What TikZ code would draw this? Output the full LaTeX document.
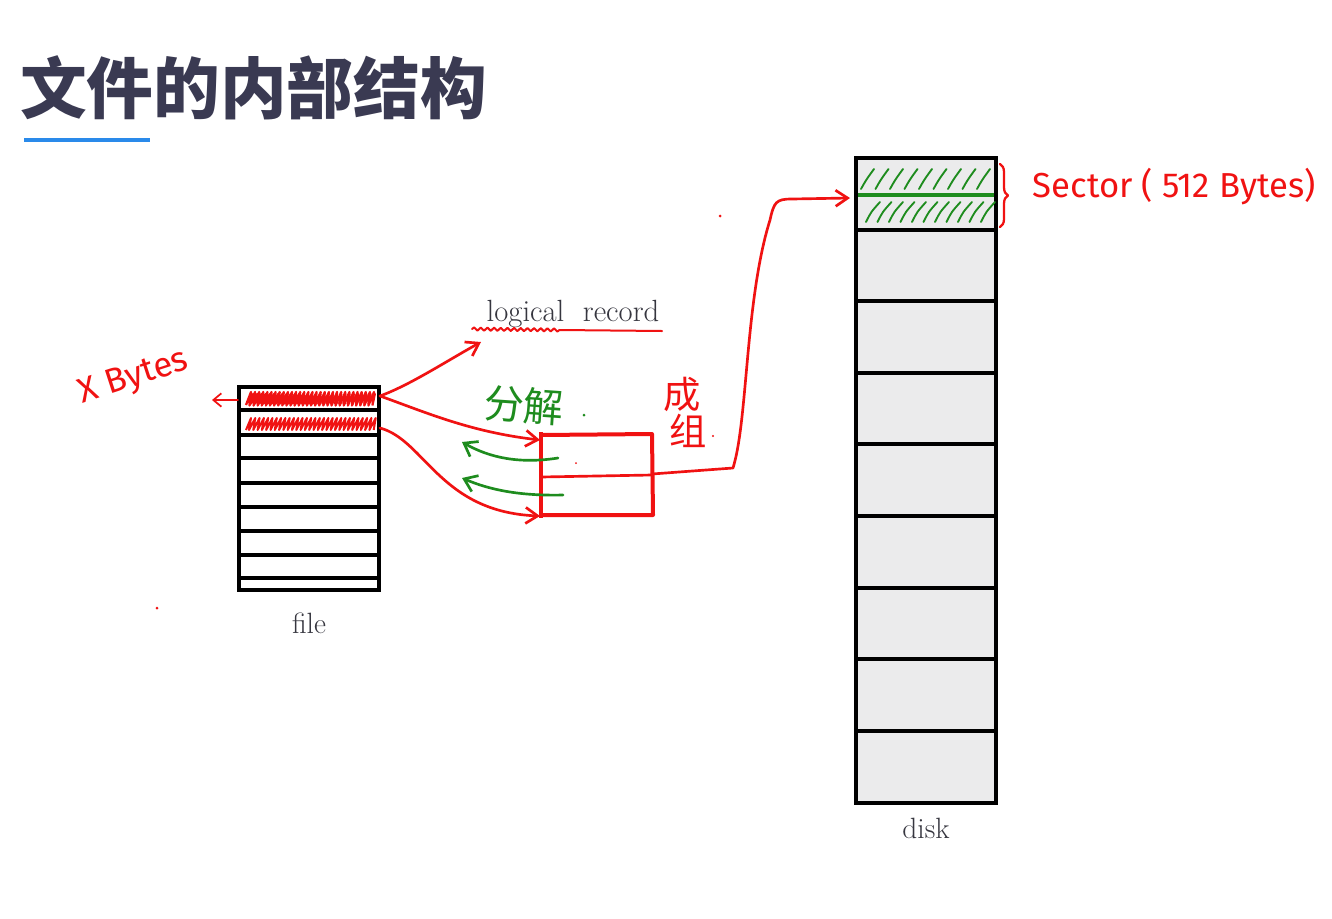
\documentclass[tikz,border=0pt]{standalone}
\usepackage{fontspec}
\newfontfamily\cjk{Noto Sans CJK SC}
\newfontfamily\hand{Fira Sans}
\usetikzlibrary{arrows.meta,decorations.pathmorphing,decorations.pathreplacing}
\definecolor{ink}{HTML}{3A3A52}
\definecolor{txt}{HTML}{36363F}
\definecolor{pen}{HTML}{F01212}
\definecolor{gpen}{HTML}{1E8C1E}
\definecolor{ulblue}{HTML}{2A8AEA}
\definecolor{diskfill}{HTML}{EBEBEC}
\tikzset{
  cellline/.style={line width=2.8pt, black},
  redpen/.style={pen, line width=2pt, line cap=round, line join=round},
  greenpen/.style={gpen, line width=2pt, line cap=round, line join=round},
  barb/.style={-{Straight Barb[length=9pt,width=12pt,line width=2pt]}},
  scrib/.style={pen, line width=1.7pt, line join=round},
  hatch/.style={gpen, line width=1.4pt, line cap=round},
  label/.style={text=txt, font=\fontsize{22}{26}\selectfont},
  handtext/.style={text=pen, font=\hand\fontsize{26}{30}\selectfont},
}
\begin{document}
\begin{tikzpicture}[x=0.75pt,y=-0.75pt]
\useasboundingbox (0,0) rectangle (1332,918);
\fill[white] (0,0) rectangle (1332,918);
% title
\node[anchor=west, text=ink, font=\cjk\bfseries\fontsize{50}{54}\selectfont, inner sep=0] (title) at (20,88) {文件的内部结构};
\draw[ulblue, line width=2.6pt] (24,140) -- (150,140);
% file box
\draw[cellline, fill=white] (239,387) rectangle (379,590);
\foreach \y in {410,435,458,483,507,531,555,578} \draw[cellline] (239,\y) -- (379,\y);
\coordinate (r1) at (380,396);
\coordinate (r2) at (380,428);
\node[label] (file) at (309,623) {file};
% scribbles
\draw[scrib] (246,405) \foreach \i in {0,...,30} { -- (251+\i*4.1,392) -- (249.5+\i*4.1,405.5) };
\draw[scrib] (248,403) \foreach \i in {0,...,29} { -- (253+\i*4.2,394) -- (251+\i*4.2,403.5) };
\draw[scrib, line width=1.5pt] (246,430) \foreach \i in {0,...,29} { -- (251+\i*4.3,418) -- (249+\i*4.3,430) };
% X Bytes
\coordinate (xa) at (238,400);
\coordinate (xb) at (212,400);
\draw[redpen, line width=1.3pt, -{Straight Barb[length=6pt,width=10pt,line width=1.3pt]}] (xa) -- (xb);
\node[handtext, rotate=18] (xbytes) at (134,378) {X Bytes};
% disk
\draw[cellline, fill=diskfill] (856,158) rectangle (996,803);
\foreach \y in {230,301,373,444,516,588,659,731} \draw[cellline] (856,\y) -- (996,\y);
\node[label] (disk) at (926,828) {disk};
% green hatch in first sector
\foreach \i in {0,...,8} \draw[hatch] (861+\i*14.5,189) .. controls (866+\i*14.5,180) .. (874+\i*14.5,169);
\foreach \i in {0,...,10} \draw[hatch] (866+\i*11.5,222) .. controls (871+\i*11.5,212) .. (880+\i*11.5,202);
\draw[gpen, line width=2.4pt] (858,195) -- (994,195);
% brace and Sector label
\draw[redpen, line width=1.7pt, decorate, decoration={brace, amplitude=6pt}] (1000,164) -- (1000,227);
\node[handtext, anchor=west] (sector) at (1028,187) {Sector ( 512 Bytes)};
% logical record
\node[label, font=\fontsize{23}{27}\selectfont] (lr) at (573,314) {logical\ \ record};
\draw[redpen, line width=1.5pt, decorate, decoration={snake, segment length=5pt, amplitude=1.2pt}] (472,329) -- (560,330);
\draw[redpen, line width=1.5pt] (560,330) -- (662,331);
% red box
\coordinate (bl) at (541,435);
\draw[pen, line width=3pt, line join=round] (541,432) -- (541,518);
\draw[pen, line width=3pt, line join=round] (541,435) -- (652,434) -- (653,515) -- (541,515);
\draw[redpen] (541,477) -- (652,475);
% arrows from file
\coordinate (lrtip) at (481,342);
\coordinate (b1) at (540,440);
\coordinate (b2) at (540,516);
\draw[redpen, barb] (r1) .. controls (410,385) and (445,362) .. (lrtip);
\draw[redpen, barb] (r1) .. controls (425,412) and (470,432) .. (b1);
\draw[redpen, barb] (r2) .. controls (425,440) and (440,512) .. (b2);
% line to disk
\coordinate (bx) at (652,474);
\coordinate (dk) at (850,198);
\draw[redpen, barb] (bx) -- (733,468) .. controls (748,420) and (745,300) .. (770,220) .. controls (774,202) and (776,199) .. (792,199) -- (dk);
% green arrows
\coordinate (g1s) at (558,458);
\coordinate (g1e) at (462,442);
\coordinate (g2s) at (563,495);
\coordinate (g2e) at (462,478);
\draw[greenpen, -{Straight Barb[length=9pt,width=13pt,line width=2pt]}] (g1s) .. controls (520,464) and (490,458) .. (g1e);
\draw[greenpen, -{Straight Barb[length=9pt,width=13pt,line width=2pt]}] (g2s) .. controls (520,496) and (490,490) .. (g2e);
% chinese annotations
\node[text=gpen, font=\cjk\fontsize{30}{34}\selectfont, rotate=-4] (fenjie) at (524,405) {分解};
\fill[gpen] (584,415) circle (1.5);
\node[text=pen, font=\cjk\fontsize{28}{32}\selectfont] (cheng) at (682,394) {成};
\node[text=pen, font=\cjk\fontsize{28}{32}\selectfont] (zu) at (688,431) {组};
\fill[pen] (713,436) circle (1.2);
% stray dots
\fill[pen] (720,216) circle (1.5);
\fill[pen] (157,608) circle (1.5);
\fill[pen] (576,463) circle (1);
\end{tikzpicture}
\end{document}
